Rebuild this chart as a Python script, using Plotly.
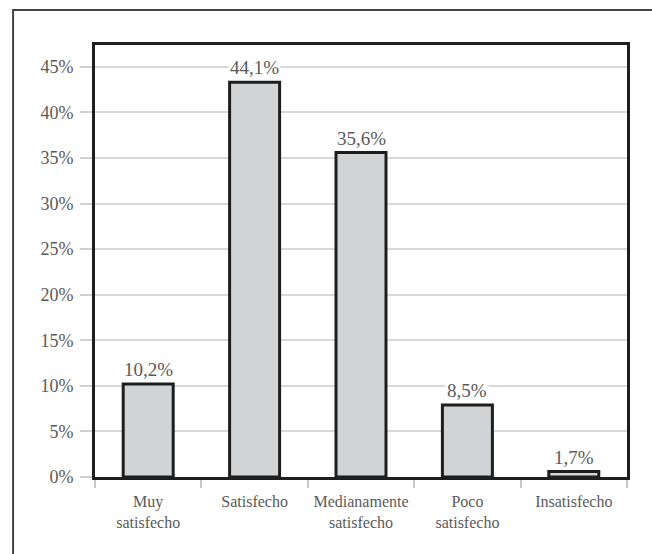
import plotly.graph_objects as go

categories = ["Muy<br>satisfecho", "Satisfecho", "Medianamente<br>satisfecho", "Poco<br>satisfecho", "Insatisfecho"]
bar_heights = [10.2, 43.3, 35.6, 7.9, 0.6]
label_texts = ["10,2%", "44,1%", "35,6%", "8,5%", "1,7%"]
y_ticks = [0, 5, 10, 15, 20, 25, 30, 35, 40, 45]
y_tick_labels = ["0%", "5%", "10%", "15%", "20%", "25%", "30%", "35%", "40%", "45%"]

font_family = "Liberation Serif"

fig = go.Figure()
fig.add_trace(go.Bar(
    x=categories,
    y=bar_heights,
    marker=dict(color="#d2d3d5", line=dict(color="#1e1e1e", width=3)),
    width=0.47,
    hoverinfo="skip",
))

for c, h, t in zip(categories, bar_heights, label_texts):
    fig.add_annotation(
        x=c, y=h, text=t, showarrow=False, yanchor="bottom",
        yshift=2, bgcolor="white", borderpad=1,
        font=dict(family=font_family, size=19, color="#5a5a5a"),
    )

fig.add_shape(
    type="path", xref="paper", yref="paper",
    path="M -0.154 -0.4 L -0.154 1.081 L 1.1 1.081",
    line=dict(color="#444444", width=2),
)

fig.update_layout(
    width=652, height=554,
    margin=dict(l=95, r=25, t=45, b=77),
    paper_bgcolor="white", plot_bgcolor="white",
    showlegend=False,
    bargap=0.53,
    font=dict(family=font_family),
)
fig.update_xaxes(
    showline=True, linecolor="#1e1e1e", linewidth=3, mirror=True,
    ticks="outside", tickson="boundaries", ticklen=8, tickcolor="#c8c8c8", tickwidth=2,
    tickfont=dict(family=font_family, size=16, color="#5a5a5a"),
    ticklabelstandoff=8,
    showgrid=False,
)
fig.update_yaxes(
    range=[0, 47.4],
    tickvals=y_ticks, ticktext=y_tick_labels,
    showgrid=True, gridcolor="#d8d8d8", gridwidth=2,
    ticks="outside", ticklen=12, tickcolor="#d0d0d0", tickwidth=2,
    showline=True, linecolor="#1e1e1e", linewidth=3, mirror=True,
    tickfont=dict(family=font_family, size=18, color="#5a5a5a"),
    ticklabelstandoff=3,
    zeroline=False,
)

fig.write_html("out.html")
